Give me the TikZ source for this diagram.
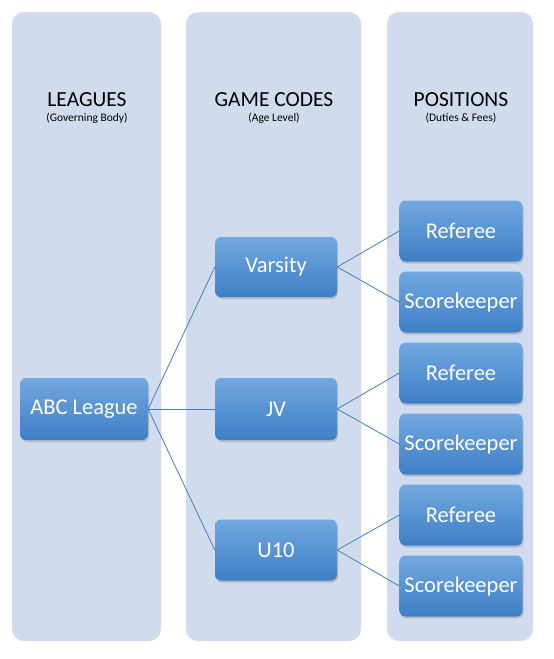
\documentclass[tikz,border=0pt]{standalone}
\usepackage{fontspec}
\setmainfont{Carlito}
\usetikzlibrary{shadows}
\definecolor{colbg}{HTML}{D0DCEE}
\definecolor{boxtop}{HTML}{72A8E0}
\definecolor{boxbot}{HTML}{3E7FC5}
\definecolor{linkc}{HTML}{4A7EBB}
\tikzset{
  colpanel/.style={fill=colbg, draw=none, rounded corners=12pt},
  itembox/.style={rounded corners=6pt, top color=boxtop, bottom color=boxbot, draw=none,
    minimum width=123pt, minimum height=61pt, text=white, font=\fontsize{22.5}{25}\selectfont,
    inner sep=0pt, drop shadow={opacity=0.35, shadow xshift=1pt, shadow yshift=-2pt}},
  headt/.style={font=\fontsize{21.5}{24}\selectfont, text=black, inner sep=0pt},
  subt/.style={font=\fontsize{11.5}{13}\selectfont, text=black, inner sep=0pt},
  link/.style={draw=linkc, line width=0.8pt}
}
\begin{document}
\begin{tikzpicture}[x=1pt,y=-1pt]
\useasboundingbox (0,0) rectangle (554,659);
\fill[white] (0,0) rectangle (554,659);
\fill[colpanel] (12,12) rectangle (161,641);
\fill[colpanel] (186,12) rectangle (361,641);
\fill[colpanel] (387,12) rectangle (533,641);
\node[headt] (h1) at (87,100) {LEAGUES};
\node[subt] (s1) at (87,118) {(Governing Body)};
\node[headt] (h2) at (274,100) {GAME CODES};
\node[subt] (s2) at (274,118) {(Age Level)};
\node[headt] (h3) at (461,100) {POSITIONS};
\node[subt] (s3) at (461,118) {(Duties \& Fees)};

\node[itembox, minimum width=128pt, minimum height=62pt] (abc) at (84,409) {ABC League};
\node[itembox, minimum width=122pt, minimum height=60pt] (var) at (276,267) {Varsity};
\node[itembox, minimum width=122pt, minimum height=62pt] (jv) at (276,409) {JV};
\node[itembox, minimum width=122pt, minimum height=61pt] (u10) at (276,550) {U10};

\node[itembox] (r1) at (461,231) {Referee};
\node[itembox] (k1) at (461,302) {Scorekeeper};
\node[itembox] (r2) at (461,373) {Referee};
\node[itembox] (k2) at (461,444) {Scorekeeper};
\node[itembox] (r3) at (461,515) {Referee};
\node[itembox] (k3) at (461,586) {Scorekeeper};

\draw[link] (abc.east) -- (var.west);
\draw[link] (abc.east) -- (jv.west);
\draw[link] (abc.east) -- (u10.west);
\draw[link] (var.east) -- (r1.west);
\draw[link] (var.east) -- (k1.west);
\draw[link] (jv.east) -- (r2.west);
\draw[link] (jv.east) -- (k2.west);
\draw[link] (u10.east) -- (r3.west);
\draw[link] (u10.east) -- (k3.west);
\end{tikzpicture}
\end{document}
